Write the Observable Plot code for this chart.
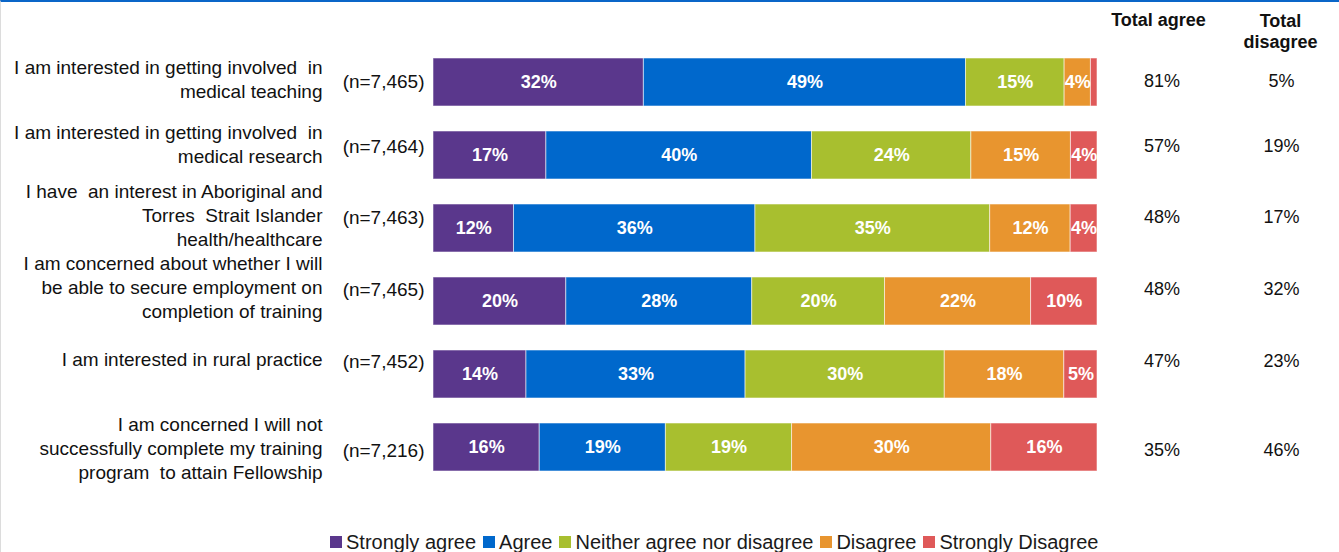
<!DOCTYPE html>
<html>
<head>
<meta charset="utf-8">
<script src="https://cdn.jsdelivr.net/npm/d3@7"></script>
<script src="https://cdn.jsdelivr.net/npm/@observablehq/plot@0.6"></script>
<style>
  html, body { margin: 0; padding: 0; background: #fff; }
  #wrap { width: 1339px; height: 552px; box-sizing: border-box; border-top: 2px solid #0a66c8; border-left: 1px solid #dcdcdc; overflow: hidden; font-family: "Liberation Sans", Arial, sans-serif; }
  #chart svg text { white-space: pre; }
  #legend { padding-left: 329px; padding-top: 20px; height: 20px; line-height: 20px; font-size: 20px; color: #1a1a1a; display: flex; align-items: center; white-space: nowrap; }
  .item { display: inline-flex; align-items: center; margin-right: 7px; }
  .sw { width: 12px; height: 12px; margin-right: 4px; display: inline-block; }
</style>
</head>
<body>
<div id="wrap"><div id="chart"></div><div id="legend"></div></div>
<script>
const questions = [
  "I am interested in getting involved  in\nmedical teaching",
  "I am interested in getting involved  in\nmedical research",
  "I have  an interest in Aboriginal and\nTorres  Strait Islander\nhealth/healthcare",
  "I am concerned about whether I will\nbe able to secure employment on\ncompletion of training",
  "I am interested in rural practice",
  "I am concerned I will not\nsuccessfully complete my training\nprogram  to attain Fellowship"
];
const nLabels = ["(n=7,465)", "(n=7,464)", "(n=7,463)", "(n=7,465)", "(n=7,452)", "(n=7,216)"];
const categories = ["Strongly agree", "Agree", "Neither agree nor disagree", "Disagree", "Strongly Disagree"];
const colors = ["#5a378c", "#0068cc", "#a8bf2f", "#e8952f", "#df5959"];
const stronglyAgree    = [32, 17, 12, 20, 14, 16];
const agree            = [49, 40, 36, 28, 33, 19];
const neither          = [15, 24, 35, 20, 30, 19];
const disagree         = [4, 15, 12, 22, 18, 30];
const stronglyDisagree = [1, 4, 4, 10, 5, 16];
const totalAgree    = [81, 57, 48, 48, 47, 35];
const totalDisagree = [5, 19, 17, 32, 23, 46];
const headers = ["Total agree", "Total\ndisagree"];

const series = [stronglyAgree, agree, neither, disagree, stronglyDisagree];
const data = [];
questions.forEach((q, i) => {
  categories.forEach((c, j) => data.push({q, cat: c, value: series[j][i]}));
});

// vertical nudges of the text rows relative to the bar centres (layout only)
const rowNudge = [-1, -9, -11, -12, -13, 3];
const font = 18;
const labelFont = 19;

const rowMarks = [];
questions.forEach((q, i) => {
  const row = [i];
  rowMarks.push(
    Plot.text(row, {y: () => q, text: () => q, frameAnchor: "left", dx: -111, dy: rowNudge[i] - 3, textAnchor: "end", lineAnchor: "middle", lineHeight: 1.25, fontSize: labelFont, fill: "#111"}),
    Plot.text(row, {y: () => q, text: () => nLabels[i], frameAnchor: "left", dx: -9, dy: rowNudge[i], textAnchor: "end", lineAnchor: "middle", fontSize: labelFont, fill: "#111"}),
    Plot.text(row, {y: () => q, text: () => totalAgree[i] + "%", frameAnchor: "right", dx: 64.5, dy: rowNudge[i], textAnchor: "middle", lineAnchor: "middle", fontSize: font, fill: "#111"}),
    Plot.text(row, {y: () => q, text: () => totalDisagree[i] + "%", frameAnchor: "right", dx: 184, dy: rowNudge[i], textAnchor: "middle", lineAnchor: "middle", fontSize: font, fill: "#111"})
  );
});

const chart = Plot.plot({
  width: 1338,
  height: 510,
  marginLeft: 432,
  marginRight: 242,
  marginTop: 30,
  marginBottom: 15,
  style: {fontFamily: '"Liberation Sans", Arial, sans-serif', background: "white"},
  x: {domain: [0, 1], axis: null},
  y: {domain: questions, padding: 0.344, axis: null},
  color: {domain: categories, range: colors},
  marks: [
    Plot.barX(data, Plot.stackX({x: "value", y: "q", fill: "cat", order: categories, offset: "normalize", stroke: "white", strokeOpacity: 0.55, strokeWidth: 1, inset: 0})),
    Plot.text(data, Plot.stackX({x: "value", y: "q", z: "cat", order: categories, offset: "normalize",
      text: d => d.value >= 2 ? d.value + "%" : "", fill: "white", fontWeight: "bold", fontSize: font})),
    Plot.text([headers[0]], {text: d => d, frameAnchor: "top-right", dx: 61, dy: -12, textAnchor: "middle", lineAnchor: "middle", fontWeight: "bold", fontSize: 18, fill: "#111"}),
    Plot.text([headers[1]], {text: d => d, frameAnchor: "top-right", dx: 183, dy: -1.5, textAnchor: "middle", lineAnchor: "middle", lineHeight: 1.18, fontWeight: "bold", fontSize: 18, fill: "#111"}),
    ...rowMarks
  ]
});
document.getElementById("chart").appendChild(chart);

const cs = chart.scale("color");
const legend = document.getElementById("legend");
cs.domain.forEach((c, i) => {
  const it = document.createElement("span");
  it.className = "item";
  const sw = document.createElement("span");
  sw.className = "sw";
  sw.style.background = cs.range[i];
  it.appendChild(sw);
  it.appendChild(document.createTextNode(c));
  legend.appendChild(it);
});
</script>
</body>
</html>
